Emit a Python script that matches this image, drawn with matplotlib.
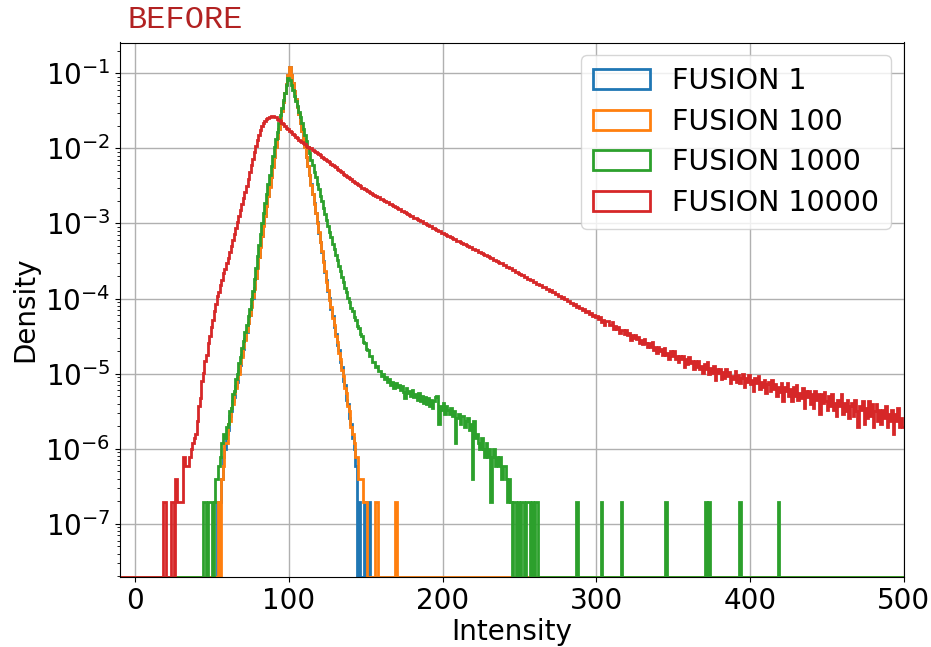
import numpy as np
import matplotlib
matplotlib.use("Agg")
import matplotlib.pyplot as plt
from matplotlib.patches import Patch

# ---------------- data ----------------
N_EVENTS = 5_100_000          # events per sample (density = counts / N / bin width)
EDGE_LO, EDGE_HI = -10, 500   # histogram range, bin width 1

LABELS = ["FUSION 1", "FUSION 100", "FUSION 1000", "FUSION 10000"]
COLORS = ["#1f77b4", "#ff7f0e", "#2ca02c", "#d62728"]

BLUE_START = 53
BLUE_COUNTS = [
    1, 0, 1, 2, 4, 5, 8, 9, 14, 16,
    22, 25, 35, 40, 55, 66, 90, 108, 149, 183,
    244, 305, 402, 519, 697, 948, 1325, 1809, 2523, 3461,
    4803, 6448, 8725, 11741, 15862, 21390, 28815, 38930, 52480, 69210,
    91180, 120240, 158460, 208870, 275420, 363050, 478640, 616500, 484200, 380200,
    298500, 234400, 184100, 144500, 112200, 87100, 67600, 52500, 39650, 29970,
    22250, 16880, 12490, 9510, 7010, 5300, 3840, 2921, 2101, 1612,
    1150, 889, 645, 512, 368, 297, 211, 172, 121, 104,
    74, 62, 41, 36, 23, 20, 13, 11, 7, 5,
    3, 0, 1, 0, 0, 0, 1, 0, 0, 1,
]
BLUE_SPIKES = []

ORANGE_START = 54
ORANGE_COUNTS = [
    1, 0, 2, 3, 6, 6, 11, 12, 18, 20,
    28, 33, 44, 51, 71, 86, 115, 142, 190, 238,
    312, 395, 531, 688, 962, 1309, 1832, 2497, 3488, 4771,
    6482, 8690, 11790, 15820, 21440, 28760, 38990, 52410, 69290, 91090,
    120330, 158370, 208960, 275330, 363140, 478550, 616600, 484100, 380300, 298400,
    234500, 184000, 144600, 112100, 87200, 67500, 52600, 39760, 29900, 22430,
    16740, 12630, 9400, 7110, 5220, 3920, 2860, 2160, 1568, 1190,
    858, 672, 493, 389, 281, 226, 161, 134, 97, 81,
    57, 47, 33, 28, 19, 16, 10, 8, 6, 4,
    4, 2, 2, 2, 1, 1, 1,
]
ORANGE_SPIKES = [156, 157, 169]

GREEN_START = 44
GREEN_COUNTS = [
    1, 1, 0, 1, 1, 1, 0, 1, 2, 2,
    3, 4, 6, 8, 7, 10, 11, 16, 18, 27,
    30, 43, 50, 70, 84, 113, 137, 182, 224, 301,
    374, 497, 652, 941, 1305, 1874, 2611, 3738, 5230, 7110,
    9520, 12640, 16960, 22430, 30150, 39860, 52440, 67680, 85030, 109700,
    141200, 177900, 223800, 281900, 354700, 446800, 416800, 354900, 301900, 257100,
    218700, 184200, 154800, 131900, 112100, 93400, 77500, 64700, 52400, 43700,
    36250, 30240, 25060, 20930, 17370, 14480, 11990, 10030, 8295, 6780,
    5602, 4695, 3874, 3322, 2736, 2353, 1938, 1672, 1398, 1186,
    991, 860, 716, 626, 517, 455, 381, 346, 288, 263,
    218, 205, 172, 163, 135, 130, 108, 106, 89, 88,
    74, 73, 62, 64, 55, 56, 47, 50, 43, 46,
    40, 43, 36, 39, 33, 38, 34, 36, 31, 35,
    29, 24, 33, 28, 30, 26, 31, 25, 27, 23,
    28, 22, 26, 21, 25, 20, 24, 19, 23, 18,
    22, 25, 26, 11, 19, 17, 21, 15, 19, 17,
    15, 18, 14, 16, 6, 13, 15, 11, 14, 14,
    10, 12, 13, 9, 11, 2, 12, 7, 8, 6,
    5, 7, 5, 4, 6, 4, 5, 1, 4, 5,
    3, 4, 3, 4, 2, 3, 3, 2, 1, 2,
    1, 0, 1, 1, 0, 1, 0, 1, 1, 0,
    1, 1, 1, 0, 1, 0, 1, 1,
]
GREEN_SPIKES = [287, 303, 316, 345, 371, 373, 393, 418]

RED_START = 18
RED_COUNTS = [
    1, 1, 0, 0, 0, 1, 1, 0, 2, 1,
    1, 1, 1, 4, 3, 3, 3, 4, 5, 6,
    7, 8, 12, 19, 24, 41, 52, 76, 91, 131,
    160, 214, 262, 345, 431, 544, 625, 768, 903, 1108,
    1279, 1527, 1778, 2138, 2570, 3090, 3715, 4467, 5370, 6457,
    7762, 9333, 11220, 13490, 16220, 19950, 24550, 30200, 37150, 45710,
    54950, 66070, 77620, 89130, 100000, 109600, 117500, 124500, 130300, 134000,
    136100, 136500, 134900, 131800, 127400, 123000, 117500, 112200, 107200, 101200,
    96600, 91200, 87100, 83200, 79400, 75900, 72400, 69200, 66100, 63800,
    61700, 59600, 57500, 55600, 53700,
    52310, 50920, 48650, 47390, 45280, 44110, 42370, 41140, 39390, 38320,
    36650, 35720, 34190, 33240, 31760, 30880, 29470, 28620, 27310, 26530,
    25370, 24610, 23480, 22830, 21790, 21240, 20290, 19730, 18870, 18360,
    17580, 17110, 16350, 15940, 15330, 15060, 14490, 14230, 13690, 13440,
    12930, 12710, 12220, 12010, 11540, 11350, 10900, 10760, 10370, 10230,
    9841, 9712, 9350, 9231, 8880, 8771, 8432, 8310, 7996, 7884,
    7578, 7470, 7186, 7082, 6812, 6715, 6458, 6365, 6122, 6035,
    5803, 5722, 5501, 5426, 5214, 5152, 4961, 4902, 4718, 4664,
    4489, 4437, 4270, 4222, 4063, 4016, 3864, 3821, 3676, 3634,
    3497, 3457, 3327, 3289, 3165, 3130, 3011, 2978, 2863, 2836,
    2727, 2703, 2600, 2576, 2477, 2456, 2361, 2340, 2249, 2231,
    2143, 2126, 2042, 2027, 1946, 1931, 1854, 1841, 1766, 1756,
    1683, 1669, 1596, 1584, 1514, 1503, 1436, 1427, 1362, 1354,
    1292, 1285, 1226, 1219, 1163, 1156, 1103, 1098, 1046, 1042,
    992, 988, 941, 938, 893, 891, 847, 846, 803, 804,
    762, 763, 722, 725, 686, 689, 650, 654, 616, 621,
    585, 590, 554, 560, 525, 532, 497, 503, 470, 478,
    445, 452, 421, 429, 398, 406, 377, 385, 356, 366,
    337, 347, 319, 329, 301, 311, 286,
    301, 275, 293, 250, 263, 229, 256, 257, 224, 226,
    247, 202, 219, 200, 215, 179, 193, 197, 171, 195,
    169, 177, 144, 166, 150, 168, 148, 158, 129, 142,
    127, 149, 129, 116, 131, 117, 136, 105, 116, 95,
    115, 103, 108, 90, 111, 91, 96, 79, 101, 87,
    101, 80, 87, 73, 88, 79, 88, 63, 79, 69,
    86, 70, 75, 58, 75, 63, 76, 58, 65, 52,
    68, 59, 72, 51, 60, 52, 64, 42, 58, 52,
    59, 43, 54, 44, 59, 48, 54, 38, 48, 43,
    56, 40, 49, 38, 44, 50, 34, 45, 39, 49,
    37, 42, 30, 44, 38, 47, 32, 39, 34, 42,
    28, 37, 39, 30, 42, 32, 37, 26, 34, 29,
    38, 22, 34, 30, 38, 26, 32, 22, 34, 26,
    36, 23, 28, 24, 33, 18, 30, 25, 30, 20,
    27, 18, 30, 23, 27, 15, 27, 21, 29, 22,
    17, 26, 19, 27, 17, 21, 14, 23, 19, 27,
    15, 21, 16, 23, 13, 19, 21, 14, 23, 16,
    10, 19, 17, 22, 11, 18, 13, 22, 14, 20,
    10, 16, 20, 12, 17, 11, 17, 13, 19, 10,
    15, 12, 17, 8, 15, 12, 18, 10, 13, 10,
]
RED_SPIKES = []

SERIES = [
    (BLUE_START, BLUE_COUNTS, BLUE_SPIKES),
    (ORANGE_START, ORANGE_COUNTS, ORANGE_SPIKES),
    (GREEN_START, GREEN_COUNTS, GREEN_SPIKES),
    (RED_START, RED_COUNTS, RED_SPIKES),
]

# ---------------- build histograms ----------------
edges = np.arange(EDGE_LO, EDGE_HI + 1, 1.0)
nbins = len(edges) - 1
densities = []
for start, dense, spikes in SERIES:
    c = np.zeros(nbins)
    i0 = start - EDGE_LO
    c[i0:i0 + len(dense)] = dense
    for s in spikes:
        c[s - EDGE_LO] += 1
    densities.append(c / N_EVENTS / 1.0)

nonzero_min = min(d[d > 0].min() for d in densities)
floor = nonzero_min / 10.0

# ---------------- plot ----------------
fig = plt.figure(figsize=(9.31, 6.47), dpi=100)
ax = fig.add_axes([120 / 931, 1 - 577 / 647, (903.5 - 120) / 931, (577 - 42.5) / 647])

for d, col in zip(densities, COLORS):
    dd = np.where(d > 0, d, floor)
    ax.stairs(dd, edges, color=col, linewidth=2.0, baseline=None)

ax.set_yscale("log")
ax.set_xlim(EDGE_LO, EDGE_HI)
ax.set_ylim(floor, 0.257)
ax.set_xticks([0, 100, 200, 300, 400, 500])
ax.grid(True, which="major", color="#b0b0b0", linewidth=1.0)
ax.set_axisbelow(True)
ax.tick_params(axis="both", which="major", labelsize=20)
ax.set_xlabel("Intensity", fontsize=20, labelpad=2)
ax.set_ylabel("Density", fontsize=20)

handles = [Patch(facecolor="none", edgecolor=c, linewidth=2) for c in COLORS]
ax.legend(handles, LABELS, loc="upper right", fontsize=20.5,
          labelspacing=0.45, borderaxespad=0.45, handletextpad=0.8)

fig.text(128 / 931, 1 - 28 / 647, "BEFORE", family="Liberation Mono",
         fontsize=23, color="#b22222", ha="left", va="baseline")

fig.savefig("out.png", dpi=100)
